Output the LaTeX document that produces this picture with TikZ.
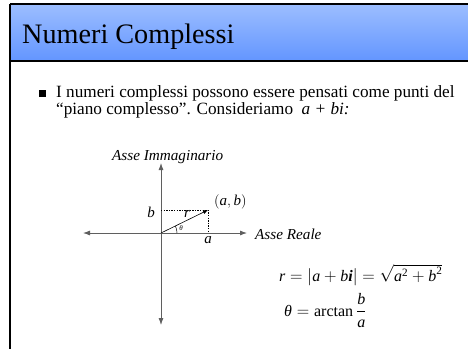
\documentclass[tikz,border=0pt]{standalone}
\usepackage{amsmath}
\usepackage{fontspec}
\setmainfont{Liberation Serif}
\usetikzlibrary{arrows.meta}
\definecolor{titletop}{RGB}{155,189,255}
\definecolor{titlebot}{RGB}{100,150,255}
\definecolor{axisgray}{RGB}{95,95,95}
% italic letters in the Times-like text face
\newcommand{\mv}[1]{\textit{#1}}

\begin{document}
\begin{tikzpicture}[x=1pt, y=-1pt,
    axis/.style={axisgray, line width=0.8pt},
    guide/.style={dash pattern=on 1.3pt off 1.3pt, line width=0.7pt},
    body/.style={font=\fontsize{17.2}{19}\selectfont, inner sep=0pt},
    lbl/.style={font=\fontsize{15}{17}\selectfont, inner sep=1pt}]
  \useasboundingbox (0,0) rectangle (468,349);

  % Title bar
  \shade[top color=titletop, bottom color=titlebot] (10,5) rectangle (468,60);
  \draw[line width=2pt] (10,4) -- (468,4);
  \draw[line width=2pt] (10,4) -- (10,349);
  \draw[line width=1.5pt] (10,61) -- (468,61);
  \node[anchor=base west, font=\fontsize{28.2}{31}\selectfont, inner sep=0pt] (title) at (22,43.5) {Numeri Complessi};

  % Bullet text
  \node[fill, minimum size=6.5pt, inner sep=0pt] (bullet) at (42.5,93.5) {};
  \node[body, anchor=base west] (line1) at (56,97.5) {I numeri complessi possono essere pensati come punti del};
  \node[body, anchor=base west] (line2) at (56,114) {``piano complesso''. Consideriamo \ {\itshape a + bi:}};

  % Coordinates
  \coordinate (O) at (161,233);
  \coordinate (P) at (208,210);
  \coordinate (xl) at (83,233);
  \coordinate (xr) at (247,233);
  \coordinate (yt) at (161,163);
  \coordinate (yb) at (161,325);
  \draw[axis, {Latex[length=7pt,width=5pt]}-{Latex[length=7pt,width=5pt]}] (xl) -- (xr);
  \draw[axis, {Latex[length=7pt,width=5pt]}-{Latex[length=7pt,width=5pt]}] (yb) -- (yt);
  \node[lbl, font=\fontsize{15.2}{17}\selectfont\itshape, anchor=base west, inner sep=0pt] (imlab) at (112,160.5) {Asse Immaginario};
  \node[lbl, font=\fontsize{15.2}{17}\selectfont\itshape, anchor=base west, inner sep=0pt] (relab) at (255,239) {Asse Reale};

  % Point a+bi
  \draw[guide] (O |- P) -- (P) -- (P |- O);
  \draw[line width=0.6pt, -{Latex[length=5pt,width=4pt]}] (O) -- (P);
  \draw[line width=0.5pt] (O) ++(16,0) arc[start angle=0, end angle=-26, radius=16];
  \node[lbl] (blab) at (151,212) {\mv{b}};
  \node[lbl] (alab) at (208,240) {\mv{a}};
  \node[lbl, anchor=west] (plab) at (213,202) {$(\mv{a},\mv{b})$};
  \node[lbl] (rlab) at (187,214) {\mv{r}};
  \node[inner sep=0pt, font=\fontsize{7}{8}\selectfont] (tlab) at (181,228) {\mv{θ}};

  % Formulas
  \node[lbl, font=\fontsize{16}{18}\selectfont, anchor=base west, inner sep=0pt] (rform) at (279,281)
    {$\mv{r} = \left|\mv{a}+\mv{b}\textbf{\mv{i}}\right| = \sqrt{\mv{a}^{\text{2}}+\mv{b}^{\text{2}}}$};
  \node[lbl, font=\fontsize{16}{18}\selectfont, anchor=base west, inner sep=0pt] (tform) at (284,316)
    {$\mv{θ} = \text{arctan}\,\dfrac{\mv{b}}{\mv{a}}$};
\end{tikzpicture}
\end{document}
